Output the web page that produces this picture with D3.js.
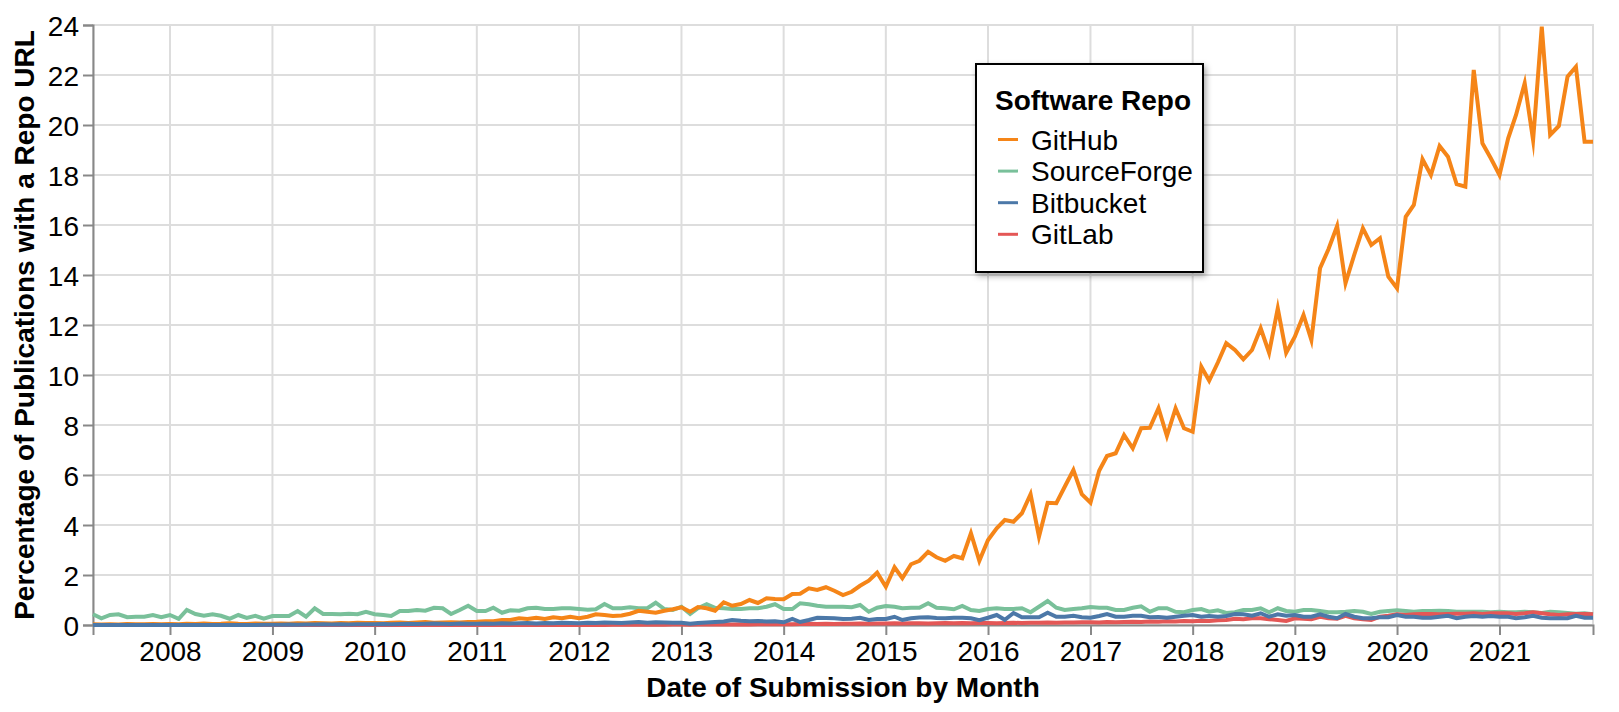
<!DOCTYPE html>
<html>
<head>
<meta charset="utf-8">
<script src="https://cdn.jsdelivr.net/npm/d3@7"></script>
<style>
  body { margin: 0; background: #fff; }
  text { font-family: Helvetica, Arial, "Liberation Sans", sans-serif; }
</style>
</head>
<body>
<svg id="chart" width="1619" height="712"></svg>
<script>
// monthly share (%) of submissions with a repo URL, Apr 2007 .. Dec 2021
var firstMonth = [2007, 3];   // April 2007 (month index 3)
var lastMonth = [2021, 11];   // December 2021

var repos = ["GitHub", "SourceForge", "Bitbucket", "GitLab"];
var repoColors = { GitHub: "#f58518", SourceForge: "#79c09a", Bitbucket: "#4c78a8", GitLab: "#e45756" };
var drawOrder = ["SourceForge", "GitLab", "GitHub", "Bitbucket"];

var yTicks = [0, 2, 4, 6, 8, 10, 12, 14, 16, 18, 20, 22, 24];

var github = [].concat(
  [0.03, 0.02, 0.03, 0.02, 0.04, 0.03, 0.03, 0.04, 0.03],                      // 2007 (Apr-Dec)
  [0.04, 0.03, 0.05, 0.04, 0.06, 0.04, 0.05, 0.07, 0.05, 0.04, 0.06, 0.05],    // 2008
  [0.05, 0.06, 0.05, 0.07, 0.06, 0.08, 0.07, 0.06, 0.08, 0.07, 0.09, 0.08],    // 2009
  [0.08, 0.07, 0.09, 0.10, 0.08, 0.10, 0.12, 0.09, 0.10, 0.11, 0.10, 0.12],    // 2010
  [0.13, 0.15, 0.15, 0.20, 0.20, 0.27, 0.24, 0.29, 0.24, 0.31, 0.27, 0.33],    // 2011
  [0.27, 0.33, 0.43, 0.40, 0.36, 0.38, 0.45, 0.57, 0.53, 0.49, 0.57, 0.63],    // 2012
  [0.71, 0.53, 0.72, 0.67, 0.57, 0.91, 0.77, 0.84, 1.00, 0.88, 1.07, 1.04],    // 2013
  [1.03, 1.24, 1.25, 1.47, 1.40, 1.51, 1.37, 1.20, 1.33, 1.57, 1.77, 2.09],    // 2014
  [1.53, 2.31, 1.87, 2.43, 2.57, 2.93, 2.71, 2.57, 2.76, 2.67, 3.67, 2.57],    // 2015
  [3.40, 3.87, 4.20, 4.13, 4.47, 5.23, 3.53, 4.89, 4.87, 5.53, 6.20, 5.23],    // 2016
  [4.89, 6.17, 6.76, 6.87, 7.60, 7.07, 7.87, 7.89, 8.67, 7.56, 8.67, 7.87],    // 2017
  [7.73, 10.33, 9.77, 10.50, 11.27, 11.00, 10.63, 11.00, 11.87, 10.89, 12.67, 10.89], // 2018
  [11.53, 12.40, 11.40, 14.27, 15.03, 15.96, 13.67, 14.80, 15.87, 15.20, 15.47, 13.93], // 2019
  [13.47, 16.33, 16.80, 18.63, 18.00, 19.16, 18.73, 17.63, 17.53, 22.20, 19.27, 18.67], // 2020
  [18.00, 19.47, 20.40, 21.67, 19.40, 23.93, 19.60, 19.96, 21.93, 22.33, 19.33, 19.33]  // 2021
);

var sourceforge = [].concat(
  [0.43, 0.27, 0.40, 0.43, 0.31, 0.33, 0.33, 0.40, 0.31],
  [0.40, 0.25, 0.60, 0.44, 0.37, 0.43, 0.37, 0.25, 0.40, 0.28, 0.37, 0.25],
  [0.36, 0.36, 0.36, 0.56, 0.33, 0.67, 0.44, 0.44, 0.43, 0.45, 0.43, 0.53],
  [0.43, 0.40, 0.36, 0.56, 0.56, 0.60, 0.57, 0.69, 0.67, 0.44, 0.60, 0.77],
  [0.56, 0.56, 0.69, 0.49, 0.59, 0.57, 0.67, 0.69, 0.64, 0.64, 0.67, 0.67],
  [0.64, 0.61, 0.63, 0.84, 0.67, 0.67, 0.71, 0.67, 0.67, 0.89, 0.64, 0.60],
  [0.73, 0.44, 0.67, 0.83, 0.69, 0.67, 0.64, 0.64, 0.67, 0.67, 0.73, 0.83],
  [0.64, 0.64, 0.87, 0.83, 0.77, 0.73, 0.73, 0.73, 0.71, 0.80, 0.53, 0.69],
  [0.76, 0.73, 0.67, 0.69, 0.69, 0.87, 0.69, 0.67, 0.63, 0.76, 0.60, 0.56],
  [0.64, 0.67, 0.64, 0.64, 0.67, 0.51, 0.73, 0.96, 0.69, 0.60, 0.64, 0.67],
  [0.72, 0.69, 0.69, 0.60, 0.60, 0.69, 0.75, 0.53, 0.67, 0.67, 0.53, 0.51],
  [0.60, 0.64, 0.53, 0.59, 0.48, 0.51, 0.60, 0.60, 0.67, 0.51, 0.67, 0.56],
  [0.53, 0.60, 0.60, 0.56, 0.51, 0.51, 0.53, 0.56, 0.53, 0.44, 0.53, 0.56],
  [0.59, 0.56, 0.53, 0.56, 0.56, 0.57, 0.56, 0.53, 0.53, 0.53, 0.53, 0.51],
  [0.53, 0.51, 0.51, 0.53, 0.51, 0.48, 0.53, 0.51, 0.48, 0.45, 0.47, 0.43]
);

var bitbucket = [].concat(
  [0, 0, 0, 0, 0, 0, 0, 0, 0],
  [0, 0, 0, 0, 0, 0, 0, 0, 0, 0, 0, 0.01],
  [0.01, 0.01, 0.02, 0.01, 0.02, 0.02, 0.03, 0.02, 0.03, 0.02, 0.03, 0.03],
  [0.03, 0.04, 0.03, 0.04, 0.05, 0.04, 0.05, 0.06, 0.05, 0.04, 0.06, 0.05],
  [0.05, 0.06, 0.05, 0.07, 0.06, 0.07, 0.08, 0.06, 0.08, 0.07, 0.09, 0.08],
  [0.07, 0.09, 0.08, 0.10, 0.09, 0.08, 0.10, 0.12, 0.09, 0.11, 0.10, 0.09],
  [0.09, 0.05, 0.08, 0.10, 0.12, 0.14, 0.20, 0.17, 0.15, 0.16, 0.14, 0.15],
  [0.11, 0.24, 0.12, 0.20, 0.29, 0.28, 0.27, 0.24, 0.25, 0.29, 0.20, 0.24],
  [0.24, 0.33, 0.20, 0.27, 0.30, 0.31, 0.28, 0.27, 0.29, 0.29, 0.27, 0.19],
  [0.29, 0.40, 0.21, 0.48, 0.31, 0.31, 0.31, 0.49, 0.33, 0.33, 0.37, 0.31],
  [0.29, 0.36, 0.44, 0.33, 0.33, 0.37, 0.37, 0.31, 0.32, 0.29, 0.33, 0.37],
  [0.40, 0.33, 0.36, 0.33, 0.36, 0.44, 0.43, 0.37, 0.47, 0.33, 0.43, 0.37],
  [0.40, 0.33, 0.33, 0.43, 0.33, 0.27, 0.44, 0.33, 0.27, 0.27, 0.31, 0.31],
  [0.40, 0.33, 0.33, 0.29, 0.29, 0.33, 0.37, 0.27, 0.33, 0.36, 0.33, 0.36],
  [0.33, 0.33, 0.27, 0.31, 0.37, 0.29, 0.27, 0.27, 0.27, 0.37, 0.29, 0.29]
);

var gitlab = [].concat(
  [0, 0, 0, 0, 0, 0, 0, 0, 0],
  [0, 0, 0, 0, 0, 0, 0, 0, 0, 0, 0, 0],
  [0, 0, 0, 0, 0, 0, 0, 0, 0, 0, 0, 0],
  [0, 0, 0, 0, 0, 0, 0, 0, 0, 0, 0, 0],
  [0, 0, 0, 0, 0, 0, 0, 0, 0, 0, 0, 0],
  [0.00, 0.00, 0.01, 0.00, 0.01, 0.01, 0.01, 0.01, 0.01, 0.02, 0.01, 0.02],
  [0.02, 0.01, 0.02, 0.02, 0.02, 0.03, 0.02, 0.03, 0.02, 0.03, 0.03, 0.03],
  [0.03, 0.03, 0.04, 0.05, 0.04, 0.05, 0.04, 0.05, 0.05, 0.06, 0.05, 0.06],
  [0.06, 0.07, 0.06, 0.07, 0.07, 0.06, 0.07, 0.08, 0.07, 0.08, 0.07, 0.08],
  [0.08, 0.07, 0.08, 0.09, 0.08, 0.09, 0.09, 0.10, 0.09, 0.10, 0.10, 0.11],
  [0.11, 0.10, 0.12, 0.11, 0.12, 0.13, 0.12, 0.14, 0.13, 0.15, 0.14, 0.16],
  [0.15, 0.17, 0.16, 0.19, 0.20, 0.25, 0.23, 0.27, 0.27, 0.23, 0.20, 0.16],
  [0.27, 0.25, 0.23, 0.33, 0.27, 0.25, 0.37, 0.27, 0.23, 0.20, 0.33, 0.37],
  [0.43, 0.40, 0.43, 0.44, 0.44, 0.43, 0.44, 0.45, 0.45, 0.47, 0.44, 0.47],
  [0.47, 0.47, 0.44, 0.47, 0.51, 0.47, 0.43, 0.40, 0.43, 0.44, 0.44, 0.43]
);

var seriesValues = { GitHub: github, SourceForge: sourceforge, Bitbucket: bitbucket, GitLab: gitlab };

var months = d3.utcMonth.range(
  new Date(Date.UTC(firstMonth[0], firstMonth[1], 1)),
  d3.utcMonth.offset(new Date(Date.UTC(lastMonth[0], lastMonth[1], 1)), 1)
);

var margin = { left: 93, top: 25 };
var width = 1500, height = 600;

var svg = d3.select("#chart");
var g = svg.append("g").attr("transform", "translate(" + margin.left + "," + margin.top + ")");

var x = d3.scaleUtc().domain([months[0], months[months.length - 1]]).range([0, width]);
var y = d3.scaleLinear().domain([0, 24]).range([height, 0]);

var years = d3.utcYear.range(d3.utcYear.ceil(months[0]), months[months.length - 1]);

// grid
g.append("g").selectAll("line").data(yTicks).join("line")
  .attr("x1", 0).attr("x2", width)
  .attr("y1", function (d) { return y(d); }).attr("y2", function (d) { return y(d); })
  .attr("stroke", "#ddd").attr("stroke-width", 2);
g.append("g").selectAll("line").data(years).join("line")
  .attr("x1", function (d) { return x(d); }).attr("x2", function (d) { return x(d); })
  .attr("y1", 0).attr("y2", height)
  .attr("stroke", "#ddd").attr("stroke-width", 2);
g.append("rect").attr("width", width).attr("height", height)
  .attr("fill", "none").attr("stroke", "#ddd").attr("stroke-width", 2);

// axes
var xAxis = g.append("g").attr("transform", "translate(0," + height + ")")
  .call(d3.axisBottom(x).tickValues(years).tickFormat(d3.utcFormat("%Y")).tickSize(10).tickPadding(4));
var yAxis = g.append("g")
  .call(d3.axisLeft(y).tickValues(yTicks).tickSize(10).tickPadding(4));
[xAxis, yAxis].forEach(function (a) {
  a.select(".domain").attr("stroke", "#888").attr("stroke-width", 2);
  a.selectAll(".tick line").attr("stroke", "#888").attr("stroke-width", 2);
  a.selectAll(".tick text").attr("fill", "#000").style("font-size", "28px")
    .style("font-family", "Helvetica, Arial, 'Liberation Sans', sans-serif");
});
xAxis.selectAll(".tick text").attr("dy", null).attr("y", 36);
yAxis.selectAll(".tick text").attr("dy", "0.36em");

// lines
var line = d3.line()
  .x(function (d, i) { return x(months[i]); })
  .y(function (d) { return y(d); });

g.append("g").selectAll("path").data(drawOrder).join("path")
  .attr("d", function (name) { return line(seriesValues[name]); })
  .attr("fill", "none")
  .attr("stroke", function (name) { return repoColors[name]; })
  .attr("stroke-width", 4)
  .attr("stroke-miterlimit", 10);

// axis titles
svg.append("text")
  .attr("x", margin.left + width / 2).attr("y", 697)
  .attr("text-anchor", "middle")
  .style("font-size", "28px").style("font-weight", "bold")
  .text("Date of Submission by Month");
svg.append("text")
  .attr("transform", "translate(34," + (margin.top + height / 2) + ") rotate(-90)")
  .attr("text-anchor", "middle")
  .style("font-size", "28px").style("font-weight", "bold")
  .text("Percentage of Publications with a Repo URL");

// legend
var defs = svg.append("defs");
var shadow = defs.append("filter").attr("id", "shadow")
  .attr("x", "-10%").attr("y", "-10%").attr("width", "130%").attr("height", "130%");
shadow.append("feDropShadow").attr("dx", 2).attr("dy", 3).attr("stdDeviation", 3)
  .attr("flood-color", "#000").attr("flood-opacity", 0.35);

var legend = svg.append("g").attr("transform", "translate(976,64)");
legend.append("rect").attr("width", 227).attr("height", 208)
  .attr("fill", "#fff").attr("stroke", "#000").attr("stroke-width", 2)
  .attr("filter", "url(#shadow)");
legend.append("text").attr("x", 19).attr("y", 46)
  .style("font-size", "28px").style("font-weight", "bold")
  .text("Software Repo");
var items = legend.selectAll("g.item").data(repos).join("g")
  .attr("class", "item")
  .attr("transform", function (d, i) { return "translate(0," + (75.5 + i * 31.6) + ")"; });
items.append("line").attr("x1", 22).attr("x2", 42)
  .attr("stroke", function (d) { return repoColors[d]; }).attr("stroke-width", 3);
items.append("text").attr("x", 55).attr("y", 10)
  .style("font-size", "28px")
  .text(function (d) { return d; });
</script>
</body>
</html>
